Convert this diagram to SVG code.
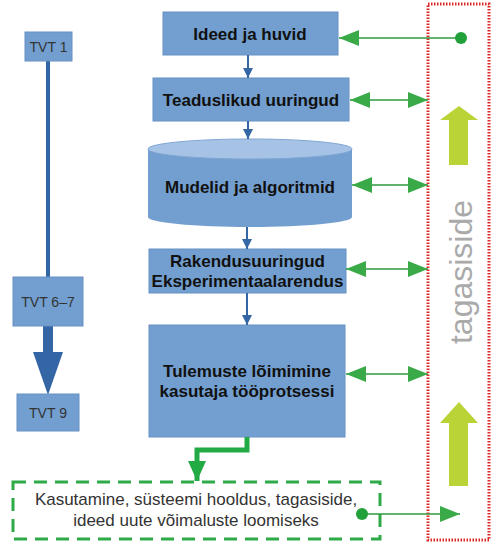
<svg xmlns="http://www.w3.org/2000/svg" width="500" height="543" viewBox="0 0 500 543">
<style>
.box{fill:#729fcf;stroke:#6690c4;stroke-width:1}
.tvt{fill:#729fcf;stroke:#6690c4;stroke-width:1}
.bt{font-family:"Liberation Sans",Arial,sans-serif;font-weight:bold;font-size:17px;fill:#111;text-anchor:middle}
.tt{font-family:"Liberation Sans",Arial,sans-serif;font-size:14px;fill:#333;text-anchor:middle}
.nt{font-family:"Liberation Sans",Arial,sans-serif;font-size:17px;fill:#333;text-anchor:middle}
.blue{stroke:#3465a4;stroke-width:2;fill:none;marker-end:url(#bh)}
.gl{stroke:#2e9a3e;stroke-width:1.6;fill:none}
.yg{fill:#bad438}
</style>
<defs>
<marker id="bh" markerUnits="userSpaceOnUse" markerWidth="10" markerHeight="10" refX="10" refY="5" orient="auto"><path d="M0,0 L10,5 L0,10 z" fill="#3465a4"/></marker>
<marker id="gh" markerUnits="userSpaceOnUse" markerWidth="20" markerHeight="16" refX="20" refY="8" orient="auto-start-reverse"><path d="M0,0 L20,8 L0,16 z" fill="#3aaa48"/></marker>
<marker id="gd" markerUnits="userSpaceOnUse" markerWidth="14" markerHeight="14" refX="7" refY="7" orient="auto"><circle cx="7" cy="7" r="6" fill="#22a03a"/></marker>
<marker id="gbig" markerUnits="userSpaceOnUse" markerWidth="20" markerHeight="18" refX="20" refY="9" orient="auto"><path d="M0,0 L20,9 L0,18 z" fill="#22aa44"/></marker>
</defs>

<g id="tvt-timeline">
<line x1="48" y1="61" x2="48" y2="277" stroke="#3465a4" stroke-width="4"/>
<rect x="43" y="326" width="10" height="27" fill="#3465a4"/>
<path d="M33,352 L63,352 L48,395 z" fill="#3465a4"/>
</g>
<g id="tvt1"><rect class="tvt" x="25" y="32" width="47" height="29"/><text class="tt" x="48.5" y="52">TVT 1</text></g>
<g id="tvt67"><rect class="tvt" x="13" y="277" width="70" height="49"/><text class="tt" x="48" y="306.5">TVT 6–7</text></g>
<g id="tvt9"><rect class="tvt" x="17" y="394" width="62" height="37"/><text class="tt" x="48" y="417.5">TVT 9</text></g>

<g id="feedback">
<rect x="428" y="4" width="61" height="536" fill="none" stroke="#e02828" stroke-width="3" stroke-dasharray="1.5 1.5"/>
<polygon class="yg" points="449,165 449,120 440,120 459,106 478,120 468,120 468,165"/>
<polygon class="yg" points="449,486 449,423 440,423 459,402 478,423 468,423 468,486"/>
<text transform="translate(472,272) rotate(-90)" font-family="Liberation Sans,Arial,sans-serif" font-size="32" fill="#aaaaaa" text-anchor="middle">tagasiside</text>
</g>

<g id="ideed"><rect class="box" x="163" y="12" width="175" height="43"/><text class="bt" x="250" y="40">Ideed ja huvid</text></g>
<g id="teaduslikud"><rect class="box" x="153" y="78" width="196" height="43"/><text class="bt" x="251" y="106">Teaduslikud uuringud</text></g>
<g id="mudelid">
<path d="M148,149 L148,217 A102,10 0 0 0 352,217 L352,149 z" fill="#729fcf"/>
<ellipse cx="250" cy="149" rx="102" ry="10" fill="#a6c3e6" stroke="#7fa6d4" stroke-width="1"/>
<text class="bt" x="250" y="193">Mudelid ja algoritmid</text>
</g>
<g id="rakendus"><rect class="box" x="149" y="249" width="197" height="44"/><text class="bt" x="247.5" y="267">Rakendusuuringud</text><text class="bt" x="247.5" y="287">Eksperimentaalarendus</text></g>
<g id="tulemuste"><rect class="box" x="149" y="325" width="196" height="112"/><text class="bt" x="247" y="377">Tulemuste lõimimine</text><text class="bt" x="247" y="397">kasutaja tööprotsessi</text></g>
<g id="kasutamine">
<rect x="13" y="482" width="367" height="57" fill="none" stroke="#2eaa48" stroke-width="3" stroke-dasharray="13 8"/>
<text class="nt" x="196" y="505">Kasutamine, süsteemi hooldus, tagasiside,</text>
<text class="nt" x="196" y="526">ideed uute võimaluste loomiseks</text>
</g>

<g id="connectors">
<line class="blue" x1="248" y1="55" x2="248" y2="78"/>
<line class="blue" x1="248" y1="121" x2="248" y2="139"/>
<line class="blue" x1="247" y1="227" x2="247" y2="249"/>
<line class="blue" x1="247" y1="293" x2="247" y2="325"/>
<path d="M247,437 L247,450 L197,450 L197,481" fill="none" stroke="#22aa44" stroke-width="5" marker-end="url(#gbig)"/>
<line class="gl" x1="461" y1="38" x2="339" y2="38" marker-start="url(#gd)" marker-end="url(#gh)"/>
<line class="gl" x1="350" y1="100" x2="428" y2="100" marker-start="url(#gh)" marker-end="url(#gh)"/>
<line class="gl" x1="352" y1="185" x2="428" y2="185" marker-start="url(#gh)" marker-end="url(#gh)"/>
<line class="gl" x1="346" y1="269" x2="428" y2="269" marker-start="url(#gh)" marker-end="url(#gh)"/>
<line class="gl" x1="346" y1="374" x2="428" y2="374" marker-start="url(#gh)" marker-end="url(#gh)"/>
<line class="gl" x1="362" y1="514" x2="460" y2="514" marker-start="url(#gd)" marker-end="url(#gh)"/>
</g>
</svg>
